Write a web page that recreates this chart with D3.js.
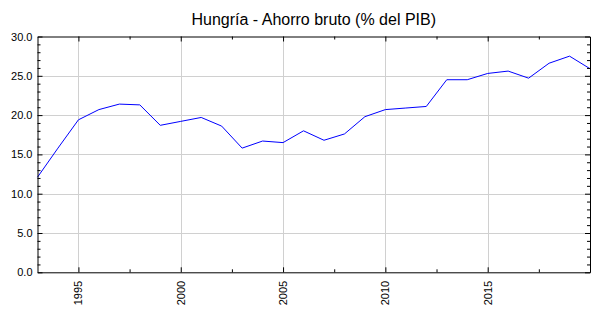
<!DOCTYPE html>
<html>
<head>
<meta charset="utf-8">
<script src="https://cdn.jsdelivr.net/npm/d3@7"></script>
<style>
  html, body { margin: 0; padding: 0; background: #fff; }
  svg { display: block; font-family: "Liberation Sans", Arial, sans-serif; }
</style>
</head>
<body>
<svg id="chart" width="600" height="315"></svg>
<script>
const title = "Hungría - Ahorro bruto (% del PIB)";
const years = [1993,1994,1995,1996,1997,1998,1999,2000,2001,2002,2003,2004,2005,2006,2007,2008,2009,2010,2011,2012,2013,2014,2015,2016,2017,2018,2019,2020];
const values = [12.1,15.8,19.4,20.7,21.4,21.3,18.7,19.2,19.7,18.6,15.8,16.7,16.5,18.0,16.8,17.6,19.8,20.7,20.9,21.1,24.5,24.5,25.3,25.6,24.7,26.6,27.5,25.9];
const xTickValues = [1995,2000,2005,2010,2015];
const xMinorTicks = [1997.5,2002.5,2007.5,2012.5,2017.5];
const yTickValues = [0,5,10,15,20,25,30];
const yMinorTicks = d3.range(0,31,1).filter(v => v % 5 !== 0);

const svg = d3.select("#chart");
const mLeft = 37.5, mRight = 590, mTop = 36.5, mBottom = 272.3;

const x = d3.scaleLinear().domain([1993, 2020]).range([mLeft, mRight]);
const y = d3.scaleLinear().domain([0, 30]).range([mBottom, mTop]);

// gridlines
const grid = svg.append("g");
grid.selectAll(".gx").data(xTickValues).enter().append("line")
  .attr("x1", d => Math.round(x(d)) + 0.5).attr("x2", d => Math.round(x(d)) + 0.5)
  .attr("y1", mTop).attr("y2", mBottom)
  .attr("stroke", "#d0d0d0").attr("stroke-width", 1);
grid.selectAll(".gy").data(yTickValues.filter(v => v > 0 && v < 30)).enter().append("line")
  .attr("y1", d => Math.round(y(d)) + 0.5).attr("y2", d => Math.round(y(d)) + 0.5)
  .attr("x1", mLeft).attr("x2", mRight)
  .attr("stroke", "#d0d0d0").attr("stroke-width", 1);

// line
const line = d3.line().x((d, i) => x(years[i])).y(d => y(d));
svg.append("path").datum(values)
  .attr("d", line)
  .attr("fill", "none")
  .attr("stroke", "#0000ff")
  .attr("stroke-width", 1);

// axes (ticks inward)
const fmt = d3.format(".1f");
function styleAxis(g) {
  g.selectAll("path.domain").attr("stroke", "#000");
  g.selectAll(".tick line").attr("stroke", "#000");
  g.selectAll(".tick text").attr("fill", "#000").attr("font-size", "11px")
    .attr("font-family", "'Liberation Sans', Arial, sans-serif");
}
const bottomMajor = svg.append("g").attr("transform", `translate(0,${mBottom})`)
  .call(d3.axisBottom(x).tickValues(xTickValues).tickSizeInner(-5).tickSizeOuter(0).tickFormat(d3.format("d")));
styleAxis(bottomMajor);
bottomMajor.selectAll(".tick text")
  .attr("transform", "rotate(-90)")
  .attr("text-anchor", "end")
  .attr("x", -8.5).attr("y", 0).attr("dy", "0.32em");
const bottomMinor = svg.append("g").attr("transform", `translate(0,${mBottom})`)
  .call(d3.axisBottom(x).tickValues(xMinorTicks).tickSize(-3).tickFormat(""));
styleAxis(bottomMinor); bottomMinor.select(".domain").remove();

const topMajor = svg.append("g").attr("transform", `translate(0,${mTop})`)
  .call(d3.axisTop(x).tickValues(xTickValues).tickSizeInner(-5).tickSizeOuter(0).tickFormat(""));
styleAxis(topMajor);
const topMinor = svg.append("g").attr("transform", `translate(0,${mTop})`)
  .call(d3.axisTop(x).tickValues(xMinorTicks).tickSize(-3).tickFormat(""));
styleAxis(topMinor); topMinor.select(".domain").remove();

const leftMajor = svg.append("g").attr("transform", `translate(${mLeft},0)`)
  .call(d3.axisLeft(y).tickValues(yTickValues).tickSizeInner(-5).tickSizeOuter(0).tickFormat(fmt));
styleAxis(leftMajor);
leftMajor.selectAll(".tick text").attr("x", -5);
const leftMinor = svg.append("g").attr("transform", `translate(${mLeft},0)`)
  .call(d3.axisLeft(y).tickValues(yMinorTicks).tickSize(-3).tickFormat(""));
styleAxis(leftMinor); leftMinor.select(".domain").remove();

const rightMajor = svg.append("g").attr("transform", `translate(${mRight},0)`)
  .call(d3.axisRight(y).tickValues(yTickValues).tickSizeInner(-5).tickSizeOuter(0).tickFormat(""));
styleAxis(rightMajor);
const rightMinor = svg.append("g").attr("transform", `translate(${mRight},0)`)
  .call(d3.axisRight(y).tickValues(yMinorTicks).tickSize(-3).tickFormat(""));
styleAxis(rightMinor); rightMinor.select(".domain").remove();

// title
svg.append("text")
  .attr("x", (mLeft + mRight) / 2).attr("y", 25)
  .attr("text-anchor", "middle")
  .attr("font-size", "16px")
  .attr("fill", "#000")
  .text(title);
</script>
</body>
</html>
